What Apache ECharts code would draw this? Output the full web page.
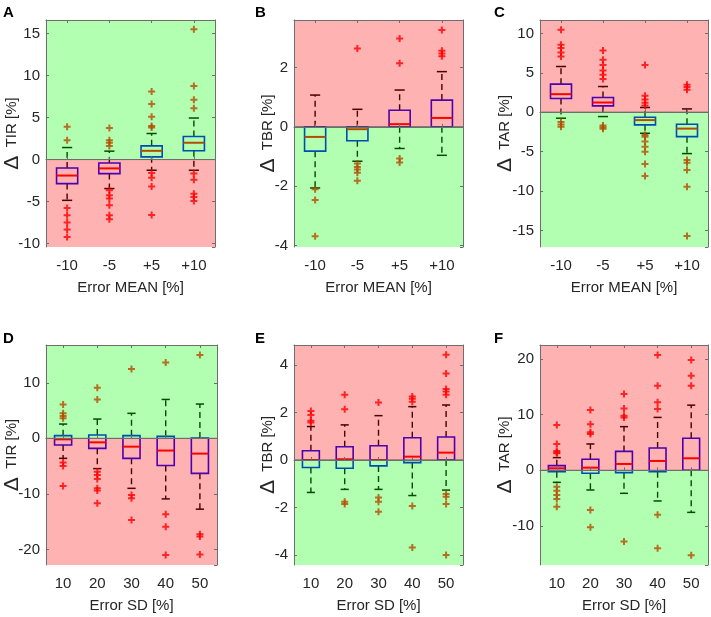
<!DOCTYPE html>
<html><head><meta charset="utf-8">
<script src="https://cdn.jsdelivr.net/npm/echarts@6/dist/echarts.min.js"></script>
<style>html,body{margin:0;padding:0;background:#fff}#c{width:711px;height:617px}</style>
</head><body><div id="c"></div>
<script>
// ---------- DATA ----------
const catsMean = ['-10', '-5', '+5', '+10'];
const catsSD = ['10', '20', '30', '40', '50'];

// box rows: [lower whisker, Q1, median, Q3, upper whisker]
const boxA = [
  [-4.85, -2.86, -1.9, -1.0, 1.43],
  [-3.45, -1.67, -1.05, -0.4, 1.0],
  [-1.27, 0.32, 1.04, 1.63, 3.1],
  [-1.27, 1.04, 2.0, 2.75, 4.94]
];
const outA = [
  [3.9, 2.3, -5.76, -6.63, -7.5, -8.33, -9.2],
  [3.75, 2.3, 2.0, 1.6, -3.65, -4.25, -4.64, -5.44, -6.63, -7.1],
  [8.1, 6.6, 5.1, 4.0, 3.8, -1.6, -2.15, -3.2, -6.6],
  [15.5, 8.76, 7.1, 6.1, -1.67, -2.4, -4.06, -4.46, -4.94]
];
const boxB = [
  [-2.06, -0.82, -0.34, 0, 1.07],
  [-1.16, -0.47, -0.08, 0, 0.59],
  [-0.73, 0, 0.09, 0.56, 1.24],
  [-0.96, 0, 0.3, 0.9, 1.86]
];
const outB = [
  [-2.1, -2.47, -3.69],
  [2.64, -1.24, -1.35, -1.44, -1.55, -1.82],
  [2.98, 2.14, -1.07, -1.2],
  [3.26, 2.56, 2.47, 2.38]
];
const boxC = [
  [-0.76, 1.74, 2.29, 3.56, 5.8],
  [-0.55, 0.8, 1.23, 1.86, 3.26],
  [-2.67, -1.6, -1.0, -0.64, 0.6],
  [-5.25, -3.1, -2.08, -1.53, 0.42]
];
const outC = [
  [10.47, 8.56, 8.14, 7.58, 7.08, -1.25, -1.55, -1.85],
  [7.84, 6.65, 6.0, 5.3, 4.75, 4.2, -1.7, -1.9, -2.1],
  [6.0, 2.1, 1.6, 1.2, 0.85, -2.9, -3.1, -3.7, -4.37, -5.0, -6.58, -8.1],
  [3.47, 3.2, 2.84, -6.07, -6.4, -7.34, -9.46, -15.7]
];
const boxD = [
  [-3.6, -1.2, -0.18, 0.48, 2.57],
  [-5.45, -1.8, -0.72, 0.6, 3.47],
  [-9.0, -3.6, -1.5, 0.48, 4.5],
  [-10.9, -4.9, -2.2, 0.36, 7.0],
  [-12.75, -6.3, -2.75, 0.06, 6.17]
];
const outD = [
  [6.1, 4.5, 4.0, 3.6, -4.37, -4.97, -8.56],
  [9.1, 7.0, -6.0, -6.6, -7.3, -9.0, -9.4, -11.7],
  [12.46, -10.2, -10.8, -14.7],
  [13.65, -13.65, -15.9, -21.0],
  [15.0, -17.25, -17.66, -20.9]
];
const boxE = [
  [-1.37, -0.32, 0, 0.39, 1.41],
  [-1.24, -0.35, 0.03, 0.56, 1.48],
  [-1.24, -0.25, 0, 0.6, 1.87],
  [-1.5, -0.11, 0.14, 0.94, 2.25],
  [-1.27, 0, 0.31, 0.97, 2.32]
];
const outE = [
  [2.07, 1.9, 1.66, 1.58],
  [2.75, 2.14, -1.76, -1.86],
  [2.42, -1.58, -1.76, -2.18],
  [2.68, 2.58, 2.46, -1.94, -3.69],
  [4.44, 3.65, 2.99, 2.89, 2.75, -1.44, -1.55, -1.86, -4.01]
];
const boxF = [
  [-2.16, -0.24, 0.36, 0.84, 2.28],
  [-3.53, -0.54, 0.48, 1.98, 4.73],
  [-4.13, -0.42, 1.14, 3.4, 7.84],
  [-5.5, -0.24, 1.68, 4.0, 9.5],
  [-7.55, 0, 2.16, 5.76, 11.7]
];
const outF = [
  [8.15, 4.73, 3.47, 3.2, 3.05, -2.93, -3.65, -4.43, -5.15, -6.53],
  [10.85, 8.27, 6.83, 6.5, -7.13, -10.24],
  [13.7, 11.1, 9.8, 9.5, -12.8],
  [20.7, 15.2, 12.2, 11.0, -8.0, -14.0],
  [19.8, 17.0, 15.2, -15.25]
];

// axis limits
const yRangeA = [-10.4, 16.6];
const yRangeB = [-4.05, 3.6];
const yRangeC = [-17.1, 11.7];
const yRangeD = [-22.8, 16.8];
const yRangeE = [-4.43, 4.85];
const yRangeF = [-17.0, 22.5];

const panelLetters = ['A', 'B', 'C', 'D', 'E', 'F'];
const yNames = ['TIR [%]', 'TBR [%]', 'TAR [%]', 'TIR [%]', 'TBR [%]', 'TAR [%]'];
const xNames = ['Error MEAN [%]', 'Error MEAN [%]', 'Error MEAN [%]', 'Error SD [%]', 'Error SD [%]', 'Error SD [%]'];
const zeroThreshold = 0;

// ---------- STYLE / LAYOUT ----------
const GREEN = 'rgba(0,255,0,0.3)';
const RED = 'rgba(255,0,0,0.3)';
const TXT = '#262626';
const FONT = 'Liberation Sans, Arial, sans-serif';

const panels = [
  {cats: catsMean, box: boxA, out: outA, yr: yRangeA, top: GREEN, bot: RED, rect: {left: 46, top: 20, width: 169, height: 227}, yGap: 24, title: {left: 3, top: 5}},
  {cats: catsMean, box: boxB, out: outB, yr: yRangeB, top: RED, bot: GREEN, rect: {left: 294, top: 20, width: 169, height: 227}, yGap: 16, title: {left: 255, top: 5}},
  {cats: catsMean, box: boxC, out: outC, yr: yRangeC, top: RED, bot: GREEN, rect: {left: 540, top: 20, width: 168, height: 227}, yGap: 25, title: {left: 494, top: 5}},
  {cats: catsSD, box: boxD, out: outD, yr: yRangeD, top: GREEN, bot: RED, rect: {left: 46, top: 345, width: 171, height: 220}, yGap: 24, title: {left: 3, top: 331}},
  {cats: catsSD, box: boxE, out: outE, yr: yRangeE, top: RED, bot: GREEN, rect: {left: 294, top: 345, width: 169, height: 220}, yGap: 16, title: {left: 255, top: 331}},
  {cats: catsSD, box: boxF, out: outF, yr: yRangeF, top: RED, bot: GREEN, rect: {left: 540, top: 345, width: 168, height: 220}, yGap: 25, title: {left: 494, top: 331}}
];

function renderBox(params, api) {
  const x = api.value(0);
  const pLow = api.coord([x, api.value(1)]);
  const pQ1 = api.coord([x, api.value(2)]);
  const pMed = api.coord([x, api.value(3)]);
  const pQ3 = api.coord([x, api.value(4)]);
  const pHigh = api.coord([x, api.value(5)]);
  const band = api.size([1, 0])[0];
  const bw = band * 0.5, cw = band * 0.24;
  const cx = pLow[0];
  const dash = {stroke: '#000', lineWidth: 1.4, lineDash: [6, 4]};
  const solid = {stroke: '#000', lineWidth: 1.5};
  return {type: 'group', children: [
    {type: 'line', shape: {x1: cx, y1: pQ3[1], x2: cx, y2: pHigh[1]}, style: dash},
    {type: 'line', shape: {x1: cx, y1: pQ1[1], x2: cx, y2: pLow[1]}, style: dash},
    {type: 'line', shape: {x1: cx - cw / 2, y1: pHigh[1], x2: cx + cw / 2, y2: pHigh[1]}, style: solid},
    {type: 'line', shape: {x1: cx - cw / 2, y1: pLow[1], x2: cx + cw / 2, y2: pLow[1]}, style: solid},
    {type: 'rect', shape: {x: cx - bw / 2, y: pQ3[1], width: bw, height: pQ1[1] - pQ3[1]}, style: {fill: '#fff', stroke: '#0000ff', lineWidth: 1.6}},
    {type: 'line', shape: {x1: cx - bw / 2, y1: pMed[1], x2: cx + bw / 2, y2: pMed[1]}, style: {stroke: '#ff0000', lineWidth: 2}}
  ]};
}

function makeZoneRenderer(topColor, botColor) {
  return function (params, api) {
    const cs = params.coordSys;
    const y0 = api.coord([0, api.value(1)])[1];
    return {type: 'group', children: [
      {type: 'rect', shape: {x: cs.x, y: cs.y, width: cs.width, height: y0 - cs.y}, style: {fill: topColor}},
      {type: 'rect', shape: {x: cs.x, y: y0, width: cs.width, height: cs.y + cs.height - y0}, style: {fill: botColor}},
      {type: 'line', shape: {x1: cs.x, y1: y0, x2: cs.x + cs.width, y2: y0}, style: {stroke: '#555', lineWidth: 1}}
    ]};
  };
}

const option = {
  animation: false,
  backgroundColor: '#fff',
  title: [], grid: [], xAxis: [], yAxis: [], series: []
};

panels.forEach((p, i) => {
  option.title.push({text: panelLetters[i], left: p.title.left, top: p.title.top, padding: 0,
    textStyle: {fontFamily: FONT, fontSize: 15, fontWeight: 'bold', color: '#000'}});
  option.grid.push(Object.assign({show: false, containLabel: false, outerBoundsMode: 'none'}, p.rect));
  const lineStyle = {color: '#6e6e6e', width: 1};
  const tick = {show: true, inside: true, length: 3, alignWithLabel: true, lineStyle: {color: '#6e6e6e'}};
  option.xAxis.push({type: 'category', gridIndex: i, data: p.cats, position: 'bottom', z: 20,
    axisLine: {show: true, lineStyle}, axisTick: tick,
    axisLabel: {color: TXT, fontFamily: FONT, fontSize: 15, margin: 11},
    name: xNames[i], nameLocation: 'middle', nameGap: 33,
    nameTextStyle: {color: TXT, fontFamily: FONT, fontSize: 15},
    splitLine: {show: false}});
  option.xAxis.push({type: 'category', gridIndex: i, data: p.cats, position: 'top', z: 20,
    axisLine: {show: true, onZero: false, lineStyle}, axisTick: tick, axisLabel: {show: false}, splitLine: {show: false}});
  option.yAxis.push({type: 'value', gridIndex: i, min: p.yr[0], max: p.yr[1], position: 'left', z: 20,
    axisLine: {show: true, onZero: false, lineStyle}, axisTick: {show: true, inside: true, length: 3, lineStyle: {color: '#6e6e6e'}},
    axisLabel: {color: TXT, fontFamily: FONT, fontSize: 15, margin: 6, showMinLabel: false, showMaxLabel: false},
    name: '{d|\u0394}{t|  ' + yNames[i] + '}', nameLocation: 'middle', nameGap: p.yGap, nameRotate: 90,
    nameMoveOverlap: false,
    nameTextStyle: {color: TXT, fontFamily: FONT, fontSize: 15,
      rich: {
        d: {fontSize: 21, fontFamily: FONT, color: TXT, verticalAlign: 'middle', lineHeight: 20},
        t: {fontSize: 15, fontFamily: FONT, color: TXT, verticalAlign: 'middle', lineHeight: 20}
      }},
    splitLine: {show: false}});
  option.yAxis.push({type: 'value', gridIndex: i, min: p.yr[0], max: p.yr[1], position: 'right', z: 20,
    axisLine: {show: true, onZero: false, lineStyle}, axisTick: {show: true, inside: true, length: 3, lineStyle: {color: '#6e6e6e'}},
    axisLabel: {show: false}, splitLine: {show: false}});

  const xi = i * 2, yi = i * 2;
  option.series.push({type: 'custom', xAxisIndex: xi, yAxisIndex: yi, z: 2, silent: true,
    renderItem: renderBox, encode: {x: 0, y: [1, 2, 3, 4, 5]},
    data: p.box.map((b, k) => [k, b[0], b[1], b[2], b[3], b[4]])});
  const pts = [];
  p.out.forEach((vals, k) => vals.forEach(v => pts.push([k, v])));
  option.series.push({type: 'scatter', xAxisIndex: xi, yAxisIndex: yi, z: 3, silent: true,
    symbol: 'path://M5,0L5,10M0,5L10,5', symbolSize: 7,
    itemStyle: {color: 'rgba(0,0,0,0)', borderColor: '#ff0000', borderWidth: 2},
    data: pts});
  option.series.push({type: 'custom', xAxisIndex: xi, yAxisIndex: yi, z: 10, silent: true,
    renderItem: makeZoneRenderer(p.top, p.bot), encode: {x: 0, y: 1},
    data: [[0, zeroThreshold]]});
});

const chart = echarts.init(document.getElementById('c'));
chart.setOption(option);
</script>
</body></html>
